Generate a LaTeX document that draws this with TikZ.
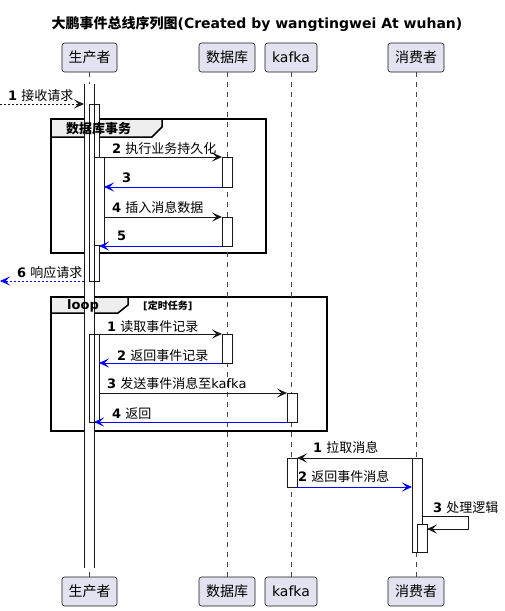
\documentclass[tikz,border=0pt]{standalone}
\usepackage{fontspec}
\setmainfont{DejaVu Sans}
\newfontfamily\cjk{Noto Sans CJK SC}
\usetikzlibrary{arrows.meta}
\definecolor{partfill}{HTML}{E2E2F0}
\definecolor{ink}{HTML}{181818}
\definecolor{tabfill}{HTML}{EEEEEE}
\definecolor{retblue}{HTML}{0000FF}
\begin{document}
\begin{tikzpicture}[x=1pt,y=-1pt,
  part/.style={draw=ink, fill=partfill, rounded corners=2.5pt, line width=0.6pt,
    minimum height=29pt, inner sep=0pt, font=\fontsize{14}{16}\selectfont\cjk},
  life/.style={draw=ink!80, dash pattern=on 5pt off 5pt, line width=0.6pt},
  actbar/.style={draw=ink, fill=white, line width=0.8pt, rectangle, anchor=north west,
    minimum width=10pt, inner sep=0pt, outer sep=0pt},
  msg/.style={draw=ink, line width=0.9pt, -{Stealth[length=10pt,width=9pt,inset=4.5pt]}},
  ret/.style={msg, draw=retblue},
  lbl/.style={anchor=base west, inner sep=0pt, font=\fontsize{13}{15}\selectfont},
  frame/.style={draw=black, line width=1.5pt},
  tab/.style={draw=black, fill=tabfill, line width=1.5pt},
  grplbl/.style={anchor=base west, inner sep=0pt, font=\fontsize{13}{15}\selectfont\bfseries}
]
\useasboundingbox (0,0) rectangle (504,611);

% title
\node[inner sep=0pt, anchor=base, font=\fontsize{14}{16}\selectfont\bfseries] (title) at (257,28)
  {{\cjk 大鹏事件总线序列图}(Created by wangtingwei At wuhan)};

% participants
\node[part, minimum width=55pt] (pt) at (89.5,57.5) {生产者};
\node[part, minimum width=56pt] (dt) at (227,57.5) {数据库};
\node[part, minimum width=52pt, font=\fontsize{14}{16}\selectfont] (kt) at (291,57.5) {kafka};
\node[part, minimum width=56pt] (ct) at (416,57.5) {消费者};
\node[part, minimum width=55pt] (pb) at (89.5,591.5) {生产者};
\node[part, minimum width=56pt] (db) at (227,591.5) {数据库};
\node[part, minimum width=52pt, font=\fontsize{14}{16}\selectfont] (kb) at (291,591.5) {kafka};
\node[part, minimum width=56pt] (cb) at (416,591.5) {消费者};

% group frames
\draw[frame] (51,119) rectangle (266,253);
\filldraw[tab] (51,119) -- (162,119) -- (162,127) -- (152,137) -- (51,137) -- cycle;
\draw[frame] (51,297) rectangle (327,431);
\filldraw[tab] (51,297) -- (128,297) -- (128,305) -- (118,313) -- (51,313) -- cycle;

% lifelines
\draw[life] (pt.south) -- (pb.north);
\draw[life] (dt.south) -- (db.north);
\draw[life] (kt.south) -- (kb.north);
\draw[life] (ct.south) -- (cb.north);

% activation bars
\node[actbar, minimum height=484pt, draw=none] (pO) at (84,84) {};
\node[actbar, minimum height=177pt] (pA) at (89,104) {};
\node[actbar, minimum height=88pt] (pL) at (89,334) {};
\draw[ink, line width=0.8pt] (pO.north west) -- (pO.south west) (pO.north east) -- (pO.south east);
\node[actbar, minimum height=88pt] (pB) at (94,157) {};
\node[actbar, minimum height=30pt] (d1) at (222,157) {};
\node[actbar, minimum height=29pt] (d2) at (222,217) {};
\node[actbar, minimum height=29pt] (d3) at (222,334) {};
\node[actbar, minimum height=29pt] (k1) at (287,393) {};
\node[actbar, minimum height=29pt] (k2) at (287,458) {};
\node[actbar, minimum height=94pt] (c1) at (412,458) {};
\node[actbar, minimum height=28pt] (c2) at (417,524) {};

% free ends
\coordinate (in1) at (0,104);
\coordinate (out6) at (0,281);
\coordinate (s3a) at (422,516);
\coordinate (s3b) at (427,529);

% messages
\draw[msg, dash pattern=on 2pt off 2pt] (in1) -- (in1 -| pO.west);
\draw[msg] (d1.north west -| pA.east) -- (d1.north west);
\draw[ret] (d1.south west) -- (d1.south west -| pB.east);
\draw[msg] (d2.north west -| pB.east) -- (d2.north west);
\draw[ret] (d2.south west) -- (d2.south west -| pA.east);
\draw[ret, dash pattern=on 2pt off 2pt] (pA.south -| pO.west) -- (out6);
\draw[msg] (d3.north west -| pL.east) -- (d3.north west);
\draw[ret] (d3.south west) -- (d3.south west -| pL.east);
\draw[msg] (k1.north west -| pL.east) -- (k1.north west);
\draw[ret] (k1.south west) -- (k1.south west -| pO.east);
\draw[msg] (c1.north west) -- (k2.north east);
\draw[ret] (k2.south east) -- (k2.south east -| c1.west);
\draw[msg] (s3a) -- (468,516) -- (468,529) -- (s3b);

% group labels
\node[grplbl] (g1) at (66,133) {\cjk\bfseries 数据库事务};
\node[grplbl] (g2) at (67,309) {loop};
\node[anchor=base west, inner sep=0pt, font=\fontsize{10}{12}\selectfont\bfseries] (g2c) at (143,309) {[{\cjk\bfseries 定时任务}]};

% labels
\node[lbl] (t1) at (8,100) {\textbf{1} {\cjk 接收请求}};
\node[lbl] (t2) at (112,153) {\textbf{2} {\cjk 执行业务持久化}};
\node[lbl] (t3) at (122,182) {\textbf{3}};
\node[lbl] (t4) at (112,212) {\textbf{4} {\cjk 插入消息数据}};
\node[lbl] (t5) at (117,240) {\textbf{5}};
\node[lbl] (t6) at (17,277) {\textbf{6} {\cjk 响应请求}};
\node[lbl] (u1) at (107,331) {\textbf{1} {\cjk 读取事件记录}};
\node[lbl] (u2) at (117,360) {\textbf{2} {\cjk 返回事件记录}};
\node[lbl] (u3) at (107,388) {\textbf{3} {\cjk 发送事件消息至}kafka};
\node[lbl] (u4) at (112,418) {\textbf{4} {\cjk 返回}};
\node[lbl] (v1) at (313,452) {\textbf{1} {\cjk 拉取消息}};
\node[lbl] (v2) at (298,481) {\textbf{2} {\cjk 返回事件消息}};
\node[lbl] (v3) at (433,512) {\textbf{3} {\cjk 处理逻辑}};
\end{tikzpicture}
\end{document}
